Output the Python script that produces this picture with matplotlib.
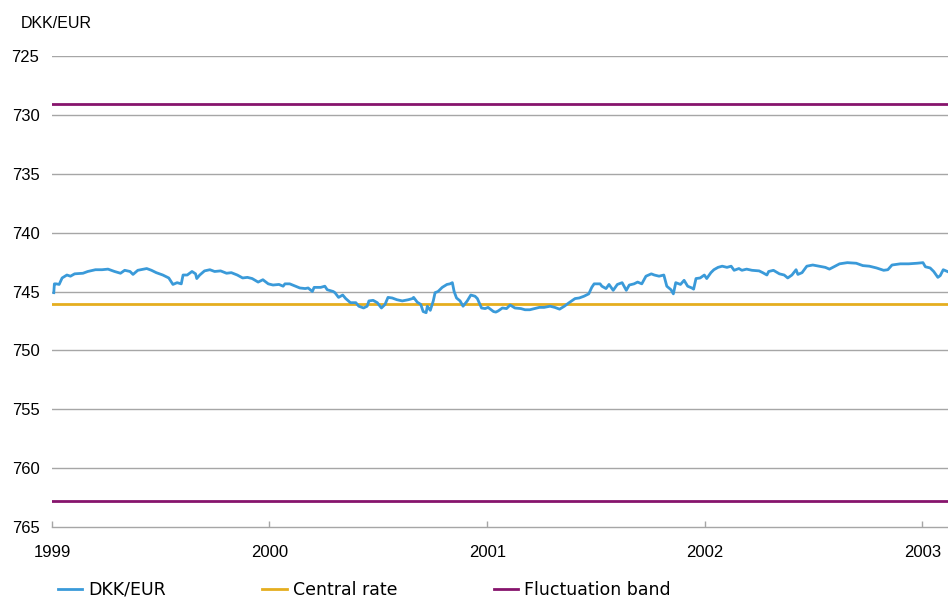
import pandas as pd
import matplotlib
matplotlib.use("Agg")
import matplotlib.pyplot as plt
import matplotlib.dates as mdates

# DKK per 100 EUR
dates = [
    "1999-01-04", "1999-01-05", "1999-01-08", "1999-01-13", "1999-01-18", "1999-01-26",
    "1999-02-01", "1999-02-08", "1999-02-22", "1999-03-02", "1999-03-15", "1999-03-26",
    "1999-04-05", "1999-04-16", "1999-04-26", "1999-05-03", "1999-05-12", "1999-05-17",
    "1999-05-25", "1999-06-09", "1999-06-17", "1999-06-25", "1999-07-06", "1999-07-16",
    "1999-07-23", "1999-07-30", "1999-08-06", "1999-08-09", "1999-08-16", "1999-08-24",
    "1999-08-30", "1999-09-01", "1999-09-06", "1999-09-14", "1999-09-23", "1999-10-01",
    "1999-10-11", "1999-10-21", "1999-10-29", "1999-11-08", "1999-11-17", "1999-11-25",
    "1999-12-03", "1999-12-13", "1999-12-21", "1999-12-30",
    "2000-01-07", "2000-01-17", "2000-01-24", "2000-01-27", "2000-02-04", "2000-02-14",
    "2000-02-21", "2000-03-01", "2000-03-06", "2000-03-13", "2000-03-16", "2000-03-27",
    "2000-04-03", "2000-04-07", "2000-04-17", "2000-04-20", "2000-04-26", "2000-05-03",
    "2000-05-08", "2000-05-16", "2000-05-25", "2000-05-30", "2000-06-07", "2000-06-13",
    "2000-06-16", "2000-06-23", "2000-06-30", "2000-07-07", "2000-07-13", "2000-07-18",
    "2000-07-25", "2000-08-02", "2000-08-11", "2000-08-21", "2000-08-28", "2000-08-30",
    "2000-09-05", "2000-09-11", "2000-09-15", "2000-09-20", "2000-09-22", "2000-09-27",
    "2000-10-02", "2000-10-05", "2000-10-10", "2000-10-17", "2000-10-25", "2000-10-30",
    "2000-11-03", "2000-11-06", "2000-11-10", "2000-11-16", "2000-11-21", "2000-11-28",
    "2000-12-04", "2000-12-11", "2000-12-15", "2000-12-22", "2000-12-28",
    "2001-01-02", "2001-01-11", "2001-01-15", "2001-01-19", "2001-01-26", "2001-02-02",
    "2001-02-08", "2001-02-16", "2001-02-26", "2001-03-05", "2001-03-13", "2001-03-21",
    "2001-03-29", "2001-04-06", "2001-04-16", "2001-04-24", "2001-05-02", "2001-05-10",
    "2001-05-18", "2001-05-28", "2001-06-04", "2001-06-12", "2001-06-20", "2001-06-25",
    "2001-06-29", "2001-07-09", "2001-07-12", "2001-07-19", "2001-07-24", "2001-07-31",
    "2001-08-07", "2001-08-15", "2001-08-22", "2001-08-27", "2001-09-04", "2001-09-10",
    "2001-09-17", "2001-09-24", "2001-10-03", "2001-10-08", "2001-10-16", "2001-10-24",
    "2001-10-29", "2001-11-05", "2001-11-09", "2001-11-13", "2001-11-21", "2001-11-27",
    "2001-12-03", "2001-12-10", "2001-12-13", "2001-12-17", "2001-12-24", "2001-12-31",
    "2002-01-04", "2002-01-11", "2002-01-16", "2002-01-23", "2002-01-30", "2002-02-07",
    "2002-02-14", "2002-02-19", "2002-02-27", "2002-03-04", "2002-03-12", "2002-03-21",
    "2002-04-02", "2002-04-08", "2002-04-15", "2002-04-18", "2002-04-26", "2002-05-06",
    "2002-05-14", "2002-05-20", "2002-05-27", "2002-06-03", "2002-06-06", "2002-06-13",
    "2002-06-21", "2002-07-01", "2002-07-12", "2002-07-22", "2002-07-29", "2002-08-15",
    "2002-08-28", "2002-09-12", "2002-09-23", "2002-10-04", "2002-10-16", "2002-10-28",
    "2002-11-04", "2002-11-11", "2002-11-25", "2002-12-09", "2002-12-23",
    "2003-01-02", "2003-01-06", "2003-01-14", "2003-01-20", "2003-01-27", "2003-01-31",
    "2003-02-05", "2003-02-12",
]
dkk_eur = [
    745.1, 744.35, 744.35, 744.4, 743.85, 743.6,
    743.7, 743.5, 743.45, 743.3, 743.15, 743.15,
    743.1, 743.3, 743.45, 743.2, 743.3, 743.55,
    743.2, 743.05, 743.2, 743.4, 743.6, 743.85,
    744.4, 744.25, 744.35, 743.6, 743.6, 743.3,
    743.5, 743.9, 743.6, 743.25, 743.15, 743.3,
    743.25, 743.45, 743.4, 743.6, 743.85, 743.8,
    743.9, 744.2, 744.0, 744.35,
    744.45, 744.4, 744.55, 744.35, 744.35, 744.55,
    744.7, 744.75, 744.7, 745.0, 744.65, 744.65,
    744.55, 744.85, 745.0, 745.1, 745.5, 745.3,
    745.6, 745.95, 745.95, 746.25, 746.4, 746.25,
    745.8, 745.75, 745.95, 746.4, 746.1, 745.5,
    745.55, 745.7, 745.8, 745.7, 745.6, 745.5,
    745.9, 746.1, 746.7, 746.8, 746.25, 746.6,
    745.8, 745.1, 745.0, 744.65, 744.4, 744.35,
    744.25, 745.0, 745.55, 745.8, 746.25, 745.8,
    745.3, 745.4, 745.6, 746.4, 746.45,
    746.35, 746.7, 746.75, 746.65, 746.4, 746.45,
    746.15, 746.4, 746.45, 746.55, 746.55, 746.45,
    746.35, 746.35, 746.25, 746.35, 746.5, 746.25,
    745.95, 745.6, 745.55, 745.4, 745.2, 744.65,
    744.35, 744.35, 744.55, 744.75, 744.4, 744.9,
    744.4, 744.25, 744.9, 744.45, 744.35, 744.2,
    744.35, 743.7, 743.5, 743.6, 743.7, 743.6,
    744.55, 744.85, 745.2, 744.25, 744.4, 744.05,
    744.55, 744.7, 744.8, 743.9, 743.85, 743.6,
    743.9, 743.4, 743.15, 742.95, 742.85, 742.95,
    742.85, 743.2, 743.05, 743.2, 743.1, 743.2,
    743.25, 743.4, 743.6, 743.3, 743.2, 743.5,
    743.6, 743.85, 743.6, 743.15, 743.55, 743.4,
    742.85, 742.75, 742.85, 742.95, 743.1, 742.65,
    742.55, 742.6, 742.8, 742.85, 743.0, 743.2,
    743.15, 742.75, 742.65, 742.65, 742.6,
    742.55, 742.9, 743.0, 743.3, 743.8, 743.65,
    743.15, 743.3,
]
central_rate = 746.038
band_upper = 729.088
band_lower = 762.824
y_ticks = [725, 730, 735, 740, 745, 750, 755, 760, 765]
x_start, x_end = "1999-01-01", "2003-02-13"

blue = "#3a9ad9"
gold = "#e5ae1f"
purple = "#86146c"
grid_grey = "#a6a6a6"

t = pd.to_datetime(dates)

fig = plt.figure(figsize=(9.48, 5.99), dpi=100)
ax = fig.add_axes([52 / 948, 1 - 527 / 599, 1 - 52 / 948, (527 - 56) / 599])

for y in y_ticks[:-1]:
    ax.axhline(y, color=grid_grey, lw=1.0, zorder=1)

ax.plot(t, dkk_eur, color=blue, lw=2.0, zorder=4, label="DKK/EUR")
ax.axhline(central_rate, color=gold, lw=2.0, zorder=3, label="Central rate")
ax.axhline(band_upper, color=purple, lw=2.0, zorder=3, label="Fluctuation band")
ax.axhline(band_lower, color=purple, lw=2.0, zorder=3)

ax.set_ylim(765, 725)
ax.set_xlim(pd.Timestamp(x_start), pd.Timestamp(x_end))
ax.set_yticks(y_ticks)

ax.xaxis.set_major_locator(mdates.YearLocator())
ax.xaxis.set_major_formatter(mdates.DateFormatter("%Y"))

for side in ["top", "left", "right"]:
    ax.spines[side].set_visible(False)
ax.spines["bottom"].set_color(grid_grey)
ax.spines["bottom"].set_linewidth(1.0)

ax.tick_params(axis="y", length=0, pad=9)
ax.tick_params(axis="x", direction="in", length=4, width=1.0, color=grid_grey, pad=13)
for lbl in ax.get_xticklabels() + ax.get_yticklabels():
    lbl.set_fontfamily("Liberation Sans")
    lbl.set_fontsize(12)

fig.text(21 / 948, 1 - 23 / 599, "DKK/EUR", fontsize=11.5, family="Liberation Sans",
         va="center", ha="left")

fig.legend(loc="center left", bbox_to_anchor=(58 / 948, 1 - 590 / 599), ncol=3,
           frameon=False, handlelength=1.4, handletextpad=0.35,
           columnspacing=5.55, borderpad=0, borderaxespad=0,
           prop={"family": "DejaVu Sans", "size": 12.5})

fig.savefig("out.png", dpi=100)
